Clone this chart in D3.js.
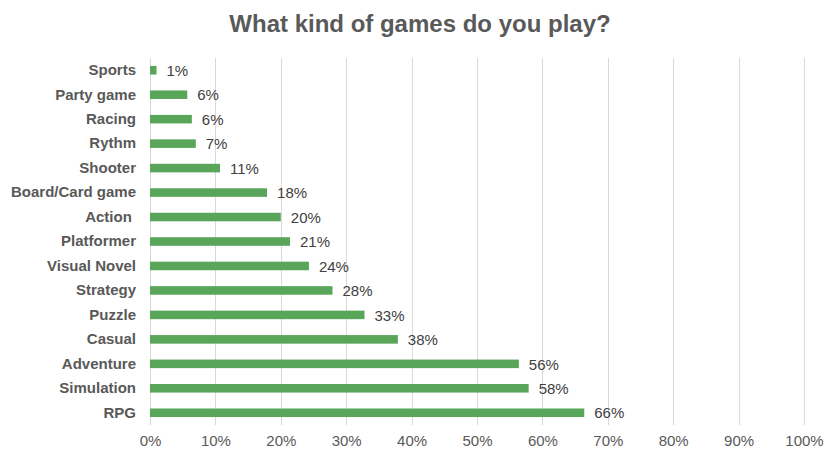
<!DOCTYPE html>
<html>
<head>
<meta charset="utf-8">
<script src="https://cdn.jsdelivr.net/npm/d3@7"></script>
<style>
  body { margin: 0; background: #fff; }
  text { font-family: "Liberation Sans", Arial, sans-serif; }
</style>
</head>
<body>
<div id="chart"></div>
<script>
const categories = ["Sports", "Party game", "Racing", "Rythm", "Shooter", "Board/Card game", "Action ",
  "Platformer", "Visual Novel", "Strategy", "Puzzle", "Casual", "Adventure", "Simulation", "RPG"]
const values = [1.0, 5.7, 6.4, 7.0, 10.7, 17.9, 20.0, 21.4, 24.3, 27.9, 32.8, 37.9, 56.4, 57.9, 66.4]
const xTicks = [0, 10, 20, 30, 40, 50, 60, 70, 80, 90, 100]
const title = "What kind of games do you play?"

const width = 840, height = 460
const margin = {top: 58, right: 36, bottom: 35, left: 150}

let svg = d3.select('#chart').append('svg')
  .attr('width', width)
  .attr('height', height)

let x = d3.scaleLinear()
  .domain([0, 100])
  .range([margin.left, width - margin.right])

let y = d3.scaleBand()
  .domain(categories)
  .range([margin.top, height - margin.bottom])
  .paddingInner(0.65)
  .paddingOuter(0.325)

svg.append('text')
  .attr('x', 420)
  .attr('y', 32)
  .attr('text-anchor', 'middle')
  .style('font-size', '24px')
  .style('font-weight', 'bold')
  .style('fill', '#595959')
  .text(title)

// gridlines
svg.append('g')
  .selectAll('line')
  .data(xTicks)
  .join('line')
  .attr('x1', d => Math.round(x(d)) + 0.5)
  .attr('x2', d => Math.round(x(d)) + 0.5)
  .attr('y1', margin.top)
  .attr('y2', height - margin.bottom)
  .style('stroke', '#d9d9d9')
  .style('stroke-width', 1)

// x axis
let xAxis = svg.append('g')
  .attr('transform', `translate(0,${height - margin.bottom})`)
  .call(d3.axisBottom(x).tickValues(xTicks).tickFormat(d => d + '%').tickSize(0).tickPadding(10))
xAxis.select('.domain').remove()
xAxis.selectAll('text')
  .style('font-size', '15px')
  .style('fill', '#595959')
  .style('font-family', '"Liberation Sans", Arial, sans-serif')

// y axis (labels keep trailing spaces like the source)
let yAxis = svg.append('g')
  .attr('transform', `translate(${margin.left},0)`)
  .call(d3.axisLeft(y).tickSize(0).tickPadding(14))
yAxis.select('.domain').remove()
yAxis.selectAll('text')
  .style('font-size', '15px')
  .style('font-weight', 'bold')
  .style('fill', '#595959')
  .style('white-space', 'pre')
  .style('font-family', '"Liberation Sans", Arial, sans-serif')

// bars
svg.append('g')
  .selectAll('rect')
  .data(categories)
  .join('rect')
  .attr('x', x(0))
  .attr('y', d => y(d))
  .attr('width', (d, i) => x(values[i]) - x(0))
  .attr('height', y.bandwidth())
  .style('fill', '#59a65b')

// value labels
svg.append('g')
  .selectAll('text')
  .data(categories)
  .join('text')
  .attr('x', (d, i) => x(values[i]) + 10)
  .attr('y', d => y(d) + y.bandwidth() / 2)
  .attr('dy', '0.38em')
  .style('font-size', '15px')
  .style('fill', '#404040')
  .text((d, i) => Math.round(values[i]) + '%')
</script>
</body>
</html>
